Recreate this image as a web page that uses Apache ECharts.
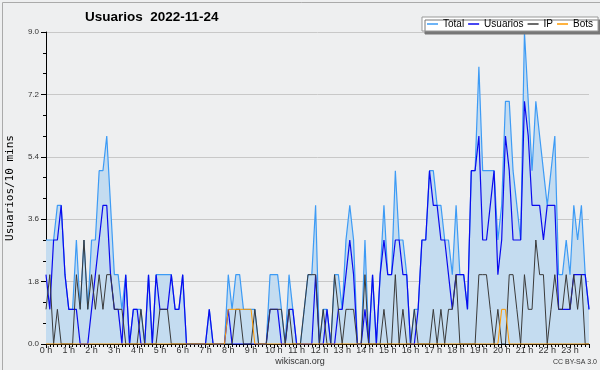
<!DOCTYPE html>
<html><head><meta charset="utf-8">
<script src="https://cdn.jsdelivr.net/npm/echarts@6/dist/echarts.min.js"></script>
<style>html,body{margin:0;padding:0;background:#eeeff0}#c{width:600px;height:370px}</style>
</head><body><div id="c"></div>
<script>
var hourLabels = ['0 h','1 h','2 h','3 h','4 h','5 h','6 h','7 h','8 h','9 h','10 h','11 h','12 h','13 h','14 h','15 h','16 h','17 h','18 h','19 h','20 h','21 h','22 h','23 h'];
var yTicks = [0, 1.8, 3.6, 5.4, 7.2, 9.0];
var total = [3,3,3,4,4,2,1,1,3,1,3,1,3,3,5,5,6,4,2,2,1,2,0,1,1,1,0,2,0,2,2,2,2,2,1,1,2,0,0,0,0,0,0,1,0,0,0,0,
  2,1,2,2,1,1,1,1,0,0,0,2,2,2,1,0,2,1,0,0,1,2,2,4,0,1,1,0,2,2,1,3,4,3,0,0,3,0,2,0,2,4,2,2,5,3,3,2,
  0,1,1,3,3,5,5,4,4,3,3,2,4,2,2,1,5,5,8,5,5,5,5,3,4,7,7,5,4,3,9,7,5,7,6,5,4,5,6,2,2,3,2,4,3,4,2,1];
var usuarios = [2,1,3,3,4,2,1,1,1,0,0,0,1,2,3,4,4,2,1,1,0,2,0,1,1,0,0,2,0,2,1,1,1,2,1,1,2,0,0,0,0,0,0,1,0,0,0,0,
  1,0,0,0,0,0,0,0,0,0,0,1,1,1,0,0,1,1,0,0,0,0,0,2,0,0,1,0,0,1,1,2,3,2,0,0,1,0,2,0,2,3,2,2,3,3,2,2,
  0,0,1,3,3,5,4,4,3,3,2,1,2,2,2,1,5,5,6,3,3,4,5,2,3,6,5,3,3,3,7,6,4,4,4,3,4,4,4,1,1,1,1,2,2,2,2,1];
var ip = [1,2,0,1,0,0,0,0,2,1,3,1,2,1,2,1,2,2,1,1,1,0,0,0,0,1,0,0,0,0,1,1,1,0,0,0,0,0,0,0,0,0,0,0,0,0,0,0,
  0,0,1,1,0,0,0,1,0,0,0,1,1,1,1,0,1,0,0,0,1,2,2,2,0,1,0,0,2,1,0,1,1,1,0,0,2,0,0,0,0,1,0,0,2,0,1,0,
  0,1,0,0,0,0,1,0,1,0,1,1,2,0,0,0,0,0,2,2,2,1,0,1,0,0,2,2,1,0,2,1,1,3,2,2,0,1,2,1,1,2,1,2,1,2,0,0];
var bots = [0,0,0,0,0,0,0,0,0,0,0,0,0,0,0,0,0,0,0,0,0,0,0,0,0,0,0,0,0,0,0,0,0,0,0,0,0,0,0,0,0,0,0,0,0,0,0,0,
  1,1,1,1,1,1,1,0,0,0,0,0,0,0,0,0,0,0,0,0,0,0,0,0,0,0,0,0,0,0,0,0,0,0,0,0,0,0,0,0,0,0,0,0,0,0,0,0,
  0,0,0,0,0,0,0,0,0,0,0,0,0,0,0,0,0,0,0,0,0,0,0,0,1,1,0,0,0,0,0,0,0,0,0,0,0,0,0,0,0,0,0,0,0,0,0,0];

function pairs(arr){ return arr.map(function(v,i){ return [i, v]; }); }

var chart = echarts.init(document.getElementById('c'), null, {renderer:'canvas'});
var FONT = 'Liberation Sans';
chart.setOption({
  backgroundColor: '#eeeff0',
  animation: false,
  title: {
    text: 'Usuarios  2022-11-24', left: 85, top: 10, padding: 0,
    textStyle: {fontFamily: FONT, fontWeight: 'bold', fontSize: 13.5, color: '#000'}
  },
  legend: {
    data: ['Total','Usuarios','IP','Bots'],
    left: 422, top: 17,
    icon: 'rect', itemWidth: 11, itemHeight: 1.5, itemGap: 4,
    padding: [2,5,2,5],
    backgroundColor: '#fff', borderColor: '#999', borderWidth: 1,
    shadowColor: '#777', shadowOffsetX: 3, shadowOffsetY: 3, shadowBlur: 0,
    textStyle: {fontFamily: FONT, fontSize: 10, color: '#000'}
  },
  grid: {left: 46, right: 11, top: 32, bottom: 26, containLabel: false, outerBoundsMode: 'none'},
  xAxis: {
    type: 'value', min: 0, max: 143, interval: 6,
    axisLine: {lineStyle: {color: '#000', width: 1}},
    axisTick: {length: 4, lineStyle: {color: '#000'}},
    minorTick: {show: true, splitNumber: 6, length: 3, lineStyle: {color: '#000'}},
    splitLine: {show: false},
    axisLabel: {
      fontFamily: FONT, fontSize: 9, color: '#333', margin: 2,
      formatter: function(v){ return (v % 6 === 0 && v/6 < hourLabels.length) ? hourLabels[v/6] : ''; }
    }
  },
  yAxis: {
    type: 'value', min: 0, max: 9, interval: 1.8,
    name: 'Usuarios/10 mins', nameLocation: 'middle', nameGap: 30, nameRotate: 90,
    nameTextStyle: {fontFamily: 'DejaVu Sans Mono', fontSize: 11, color: '#000'},
    axisLine: {show: true, lineStyle: {color: '#000', width: 1}},
    axisTick: {show: true, length: 5, lineStyle: {color: '#000'}},
    minorTick: {show: true, splitNumber: 3, length: 3, lineStyle: {color: '#000'}},
    splitLine: {lineStyle: {color: '#c8c8c8', width: 1}},
    axisLabel: {fontFamily: FONT, fontSize: 8, color: '#333', margin: 7,
      formatter: function(v){ return v.toFixed(1); }}
  },
  series: [
    {name: 'Total', type: 'line', data: pairs(total), symbol: 'none',
     lineStyle: {color: '#3d9bf5', width: 1.2}, itemStyle: {color: '#3d9bf5'},
     areaStyle: {color: '#c4dcf0', opacity: 1}, z: 1},
    {name: 'Usuarios', type: 'line', data: pairs(usuarios), symbol: 'none',
     lineStyle: {color: '#0a0aee', width: 1.2}, itemStyle: {color: '#0a0aee'}, z: 3},
    {name: 'IP', type: 'line', data: pairs(ip), symbol: 'none',
     lineStyle: {color: '#3a3a3a', width: 1}, itemStyle: {color: '#3a3a3a'}, z: 4},
    {name: 'Bots', type: 'line', data: pairs(bots), symbol: 'none',
     lineStyle: {color: '#ff9a00', width: 1}, itemStyle: {color: '#ff9a00'}, z: 5}
  ],
  graphic: [
    {type: 'rect', left: 0, top: 0, shape: {width: 599, height: 369}, style: {fill: 'none', stroke: '#aaa', lineWidth: 1}, silent: true},
    {type: 'text', left: 'center', top: 357, style: {text: 'wikiscan.org', fontFamily: FONT, fontSize: 9, fill: '#333'}},
    {type: 'text', right: 3, top: 359, style: {text: 'CC BY-SA 3.0', fontFamily: FONT, fontSize: 7, fill: '#333'}}
  ]
});
</script></body></html>
